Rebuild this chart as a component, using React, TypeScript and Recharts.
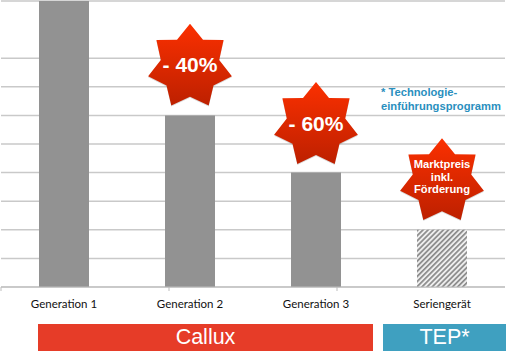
import React from "react";
import { BarChart, Bar, XAxis, YAxis, CartesianGrid, Cell, ReferenceDot } from "recharts";

const categories = ["Generation 1", "Generation 2", "Generation 3", "Seriengerät"];
const values = [10, 6, 4, 2];
const yTicks = [0, 1, 2, 3, 4, 5, 6, 7, 8, 9, 10];
const boundaryTicks = [0, 1, 2, 3, 4];
const fills = ["#929292", "#929292", "#929292", "url(#hatch)"];
const starCategories = ["Generation 2", "Generation 3", "Seriengerät"];
const starValues = [7.7, 5.66, 3.7];
const starLabels = [["- 40%"], ["- 60%"], ["Marktpreis", "inkl.", "Förderung"]];

const data = categories.map((name, i) => ({ name, value: values[i] }));
const sans = "'Liberation Sans', Arial, sans-serif";

function starPath(cx: number, cy: number, R: number, r: number) {
  const pts: string[] = [];
  for (let i = 0; i < 14; i++) {
    const a = (i * Math.PI) / 7;
    const rad = i % 2 === 0 ? R : r;
    pts.push(`${(cx + rad * Math.sin(a)).toFixed(1)},${(cy - rad * Math.cos(a)).toFixed(1)}`);
  }
  return `M${pts.join("L")}Z`;
}

function Star({ cx, cy, lines }: { cx: number; cy: number; lines: string[] }) {
  const big = lines.length === 1;
  const size = big ? 21 : 11.2;
  const step = 12.6;
  const startY = big ? cy + 5.5 : cy - 13;
  return (
    <g>
      <path d={starPath(cx, cy + 1, 43, 30)} fill="#000" opacity={0.15} />
      <path d={starPath(cx, cy, 43, 30)} fill="url(#starGrad)" />
      <text textAnchor="middle" fill="#fff" fontFamily={sans} fontWeight="bold" fontSize={size}>
        {lines.map((l, i) => (
          <tspan key={l} x={cx} y={startY + i * step}>{l}</tspan>
        ))}
      </text>
    </g>
  );
}

const band: React.CSSProperties = {
  position: "absolute",
  top: 324,
  height: 27,
  color: "#fff",
  fontFamily: sans,
  fontSize: 21.5,
  lineHeight: "27px",
  textAlign: "center",
};

export default function App() {
  return (
    <div style={{ position: "absolute", left: 0, top: 0, width: 506, height: 353, background: "#fff", overflow: "hidden" }}>
      <BarChart width={506} height={353} data={data} margin={{ top: 1, right: 1, bottom: 35, left: 1 }} barSize={50}>
        <defs>
          <linearGradient id="starGrad" x1="0" y1="0" x2="0" y2="1">
            <stop offset="0%" stopColor="#fb3000" />
            <stop offset="100%" stopColor="#bd2000" />
          </linearGradient>
          <pattern id="hatch" width="3.6" height="3.6" patternUnits="userSpaceOnUse" patternTransform="rotate(-45)">
            <rect width="3.6" height="3.6" fill="#eeeeee" />
            <rect width="3.6" height="1.7" fill="#8a8a8a" />
          </pattern>
        </defs>
        <CartesianGrid xAxisId="labels" vertical={false} stroke="#c9c9c9" strokeWidth={1.5} />
        <YAxis hide domain={[0, 10]} ticks={yTicks} />
        <XAxis
          xAxisId="bounds"
          type="number"
          domain={[0, 4]}
          ticks={boundaryTicks}
          height={1}
          tickFormatter={() => ""}
          tickSize={4}
          stroke="#bdbdbd"
        />
        <XAxis
          xAxisId="labels"
          dataKey="name"
          axisLine={false}
          tickLine={false}
          interval={0}
          height={30}
          tickMargin={6}
          tick={{ fontFamily: "Lato, sans-serif", fontSize: 11.5, fill: "#111" }}
        />
        <Bar xAxisId="labels" dataKey="value" isAnimationActive={false}>
          {data.map((d, i) => (
            <Cell key={d.name} fill={fills[i]} />
          ))}
        </Bar>
        {starCategories.map((c, i) => (
          <ReferenceDot
            key={c}
            xAxisId="labels"
            x={c}
            y={starValues[i]}
            shape={(p: any) => <Star cx={p.cx} cy={p.cy} lines={starLabels[i]} />}
          />
        ))}
      </BarChart>
      <div style={{ ...band, left: 38, width: 335, background: "#e63c28" }}>Callux</div>
      <div style={{ ...band, left: 383, width: 123, background: "#3fa0c0" }}>TEP*</div>
      <div style={{ position: "absolute", left: 381, top: 85, color: "#2a8fbe", fontFamily: sans, fontWeight: "bold", fontSize: 11.2, lineHeight: "14px", whiteSpace: "nowrap" }}>
        * Technologie-<br />einführungsprogramm
      </div>
    </div>
  );
}
